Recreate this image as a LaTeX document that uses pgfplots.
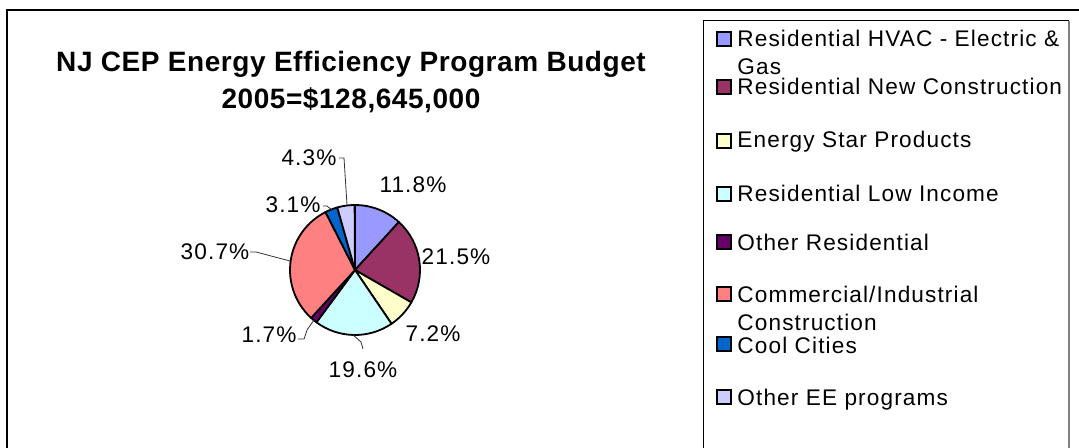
\documentclass[border=0pt]{standalone}
\usepackage{pgfplots}
\pgfplotsset{compat=1.18}
\usepackage{pgfplotstable}
\usepackage{fontspec}
\setmainfont{Liberation Sans}
\newfontfamily\wide[LetterSpace=5]{Liberation Sans}
\newfontfamily\widebold[LetterSpace=2]{Liberation Sans Bold}

\definecolor{cHVAC}{HTML}{9999FF}
\definecolor{cNew}{HTML}{993366}
\definecolor{cStar}{HTML}{FFFFCC}
\definecolor{cLow}{HTML}{CCFFFF}
\definecolor{cOthRes}{HTML}{660066}
\definecolor{cCI}{HTML}{FF8080}
\definecolor{cCool}{HTML}{0066CC}
\definecolor{cOthEE}{HTML}{CCCCFF}

\newcommand\pielabel{\wide\fontsize{11.3}{13}\selectfont}

% share of budget (%), slice colour, label position (px)
\pgfplotstableread{
value color   lx  ly
11.8  cHVAC   413 185
21.5  cNew    456 257
7.2   cStar   433 334
19.6  cLow    363 370
1.7   cOthRes 269 335
30.7  cCI     215 252
3.1   cCool   293 205
4.3   cOthEE  309 158
}\piedata

\begin{document}
\begin{tikzpicture}
\begin{axis}[
  scale only axis,
  width=539.5pt, height=224pt,
  xmin=0, xmax=1079, ymin=0, ymax=448,
  y dir=reverse,
  hide axis, clip=false,
]
% outer frame (left and top edge visible)
\draw[black,line width=1pt] (axis cs:7,460) -- (axis cs:7,10) -- (axis cs:1090,10);

% title
\node[anchor=base,font=\widebold\fontsize{14}{16}\selectfont] at (axis cs:351,72) {NJ CEP Energy Efficiency Program Budget};
\node[anchor=base,font=\widebold\fontsize{14}{16}\selectfont] at (axis cs:351,109) {2005=\$128,645,000};

% pie slices, clockwise from 12 o'clock
\gdef\cum{0}
\foreach \i in {0,...,7}{
  \pgfplotstablegetelem{\i}{value}\of\piedata \xdef\v{\pgfplotsretval}
  \pgfplotstablegetelem{\i}{color}\of\piedata \xdef\c{\pgfplotsretval}
  \pgfplotstablegetelem{\i}{lx}\of\piedata \xdef\lx{\pgfplotsretval}
  \pgfplotstablegetelem{\i}{ly}\of\piedata \xdef\ly{\pgfplotsretval}
  \pgfmathsetmacro\a{90-3.6*\cum}
  \pgfmathsetmacro\b{90-3.6*(\cum+\v)}
  \pgfmathparse{\cum+\v}\xdef\cum{\pgfmathresult}
  \edef\temp{%
    \noexpand\filldraw[fill=\c,draw=black,line width=0.9pt,line join=round]
      (axis cs:355,270) -- ++(\a:32.5pt) arc[start angle=\a,end angle=\b,radius=32.5pt] -- cycle;
    \noexpand\node[font=\noexpand\pielabel] at (axis cs:\lx,\ly) {\v\noexpand\%};}
  \temp
}

% leader lines
\begin{scope}[line width=0.4pt,black!80]
\draw (axis cs:339,158) -- (axis cs:344,158) -- (axis cs:347,205);
\draw (axis cs:323,206) -- (axis cs:327,206) -- (axis cs:332,210);
\draw (axis cs:250,252) -- (axis cs:256,252) -- (axis cs:290,261);
\draw (axis cs:298,339) -- (axis cs:304,339) -- (axis cs:307,330) -- (axis cs:314,320);
\draw (axis cs:363,349) -- (axis cs:361,342) -- (axis cs:353,335);
\end{scope}

% legend frame
\draw[black,line width=0.5pt] (axis cs:703,460) -- (axis cs:703,21) -- (axis cs:1069,21);
\draw[black!50,line width=1pt] (axis cs:1069,21) -- (axis cs:1069,460);

% legend entries
\foreach \sy/\c in {39/cHVAC,87/cNew,141/cStar,194/cLow,242/cOthRes,294/cCI,344/cCool,397/cOthEE}{
  \edef\temp{\noexpand\filldraw[fill=\c,draw=black,line width=0.6pt]
    (axis cs:717,\sy-7) rectangle (axis cs:731,\sy+7);}
  \temp
}
\foreach \by/\t in {47/{Residential HVAC - Electric \&},75/Gas,95/Residential New Construction,
  148/Energy Star Products,202/Residential Low Income,250/Other Residential,
  302/{Commercial/Industrial},330/Construction,353/Cool Cities,405/Other EE programs}{
  \edef\temp{\noexpand\node[anchor=base west,inner sep=0pt,font=\noexpand\pielabel]
    at (axis cs:737,\by) {\unexpanded\expandafter{\t}};}
  \temp
}
\end{axis}
\pgfresetboundingbox
\useasboundingbox (current axis.south west) rectangle (current axis.north east);
\end{tikzpicture}
\end{document}
